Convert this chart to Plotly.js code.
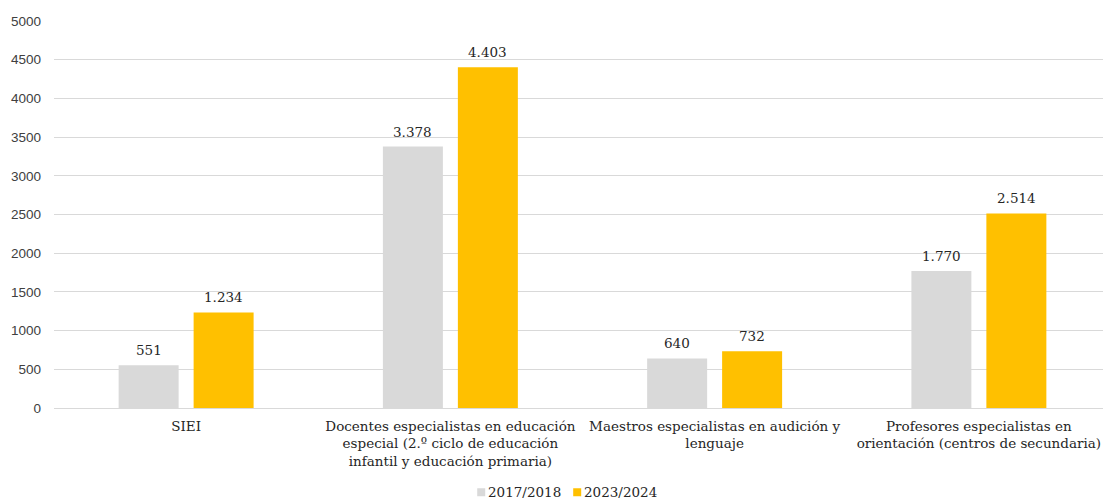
<!DOCTYPE html>
<html>
<head>
<meta charset="utf-8">
<script src="https://cdn.plot.ly/plotly-3.0.1.min.js"></script>
<style>
  html, body { margin: 0; padding: 0; overflow: hidden; background: #fff; }
  #chart { width: 1111px; height: 499px; }
</style>
</head>
<body>
<div id="chart"></div>
<script>
// Categories (Spanish, with manual line breaks as in the printed chart)
const categories = [
  'SIEI',
  'Docentes especialistas en educación<br>especial (2.º ciclo de educación<br>infantil y educación primaria)',
  'Maestros especialistas en audición y<br>lenguaje',
  'Profesores especialistas en<br>orientación (centros de secundaria)'
];
const seriesNames = ['2017/2018', '2023/2024'];
const seriesColors = ['#d9d9d9', '#ffc000'];
const values2017 = [551, 3378, 640, 1770];
const values2023 = [1234, 4403, 732, 2514];
const yTicks = [0, 500, 1000, 1500, 2000, 2500, 3000, 3500, 4000, 4500, 5000];

const serif = 'DejaVu Serif, serif';
const sans = 'Liberation Sans, Arial, sans-serif';
const textColor = '#262626';

// Spanish number formatting: dot as thousands separator
function fmt(v) {
  return String(v).replace(/\B(?=(\d{3})+(?!\d))/g, '.');
}

const traces = [values2017, values2023].map((vals, s) => ({
  type: 'bar', name: seriesNames[s], x: categories, y: vals,
  marker: { color: seriesColors[s] }, hoverinfo: 'skip', showlegend: false
}));

// Value labels above each bar; horizontal offset = half a bar slot
const slotPx = 37.5;
const annotations = [];
[values2017, values2023].forEach((vals, s) => {
  vals.forEach((v, i) => {
    annotations.push({
      x: categories[i], y: v, xref: 'x', yref: 'y',
      text: fmt(v), showarrow: false,
      xshift: s === 0 ? -slotPx : slotPx,
      yanchor: 'bottom', yshift: 5,
      font: { family: serif, size: 13.5, color: textColor }
    });
  });
});

// Compact legend below the plot: small square swatch + series name
const legendX = [0.4004, 0.4912];
const legendY = -0.2177;
const shapes = [];
seriesNames.forEach((name, s) => {
  shapes.push({
    type: 'rect', xref: 'paper', yref: 'paper',
    xsizemode: 'pixel', ysizemode: 'pixel',
    xanchor: legendX[s], yanchor: legendY,
    x0: 0, x1: 8, y0: -4, y1: 4,
    fillcolor: seriesColors[s], line: { width: 0 }
  });
  annotations.push({
    xref: 'paper', yref: 'paper', x: legendX[s], y: legendY,
    xanchor: 'left', yanchor: 'middle', xshift: 9,
    text: name, showarrow: false,
    font: { family: serif, size: 13.5, color: textColor }
  });
});

const layout = {
  width: 1111, height: 499,
  margin: { l: 53.6, r: 0, t: 20.5, b: 91.3, autoexpand: false },
  paper_bgcolor: '#fff', plot_bgcolor: '#fff',
  barmode: 'group', bargap: 0.4325, bargroupgap: 0.2,
  showlegend: false,
  xaxis: {
    type: 'category', automargin: false,
    tickfont: { family: serif, size: 13.5, color: textColor },
    showgrid: false, zeroline: false, showline: false, ticks: '',
    ticklabelstandoff: 8
  },
  yaxis: {
    range: [0, 5000], tickvals: yTicks, ticktext: yTicks.map(String),
    automargin: false,
    tickfont: { family: sans, size: 13.5, color: '#404040' },
    showgrid: true, gridcolor: '#d9d9d9', gridwidth: 1,
    zeroline: true, zerolinecolor: '#d9d9d9', zerolinewidth: 1,
    showline: false, ticks: '', ticklabelstandoff: 12
  },
  shapes: shapes,
  annotations: annotations
};

Plotly.newPlot('chart', traces, layout, { displayModeBar: false, staticPlot: true });
</script>
</body>
</html>
